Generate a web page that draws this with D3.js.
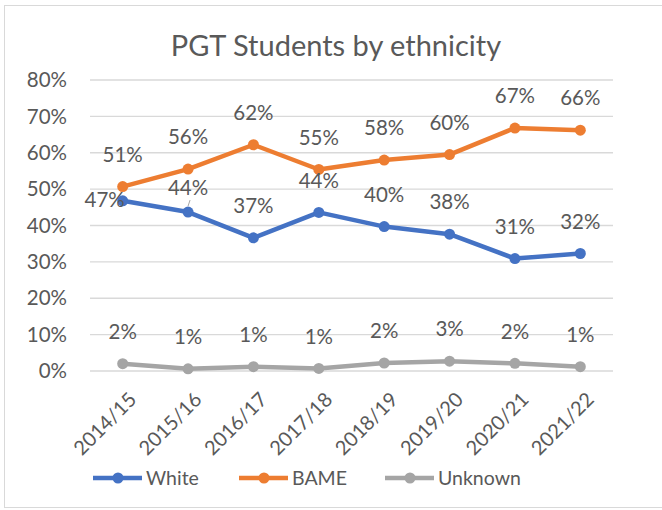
<!DOCTYPE html>
<html>
<head>
<meta charset="utf-8">
<script src="https://cdn.jsdelivr.net/npm/d3@7"></script>
<style>
  body { margin: 0; background: #fff; }
  svg text { font-family: Lato, "Noto Sans", sans-serif; fill: #595959; }
</style>
</head>
<body>
<div id="chart"></div>
<script>
// datos
const years = ["2014/15", "2015/16", "2016/17", "2017/18", "2018/19", "2019/20", "2020/21", "2021/22"];
const white = [46.8, 43.7, 36.6, 43.6, 39.7, 37.6, 30.9, 32.3];
const bame = [50.7, 55.5, 62.2, 55.4, 58.0, 59.5, 66.8, 66.2];
const unknown = [2.0, 0.6, 1.2, 0.7, 2.2, 2.7, 2.1, 1.2];
const yTicks = [0, 10, 20, 30, 40, 50, 60, 70, 80];

const series = [
  { name: "White", values: white, color: "#4472C4" },
  { name: "BAME", values: bame, color: "#ED7D31" },
  { name: "Unknown", values: unknown, color: "#A5A5A5" }
];

const W = 662, H = 510;
const svg = d3.select("#chart").append("svg").attr("width", W).attr("height", H);

// borde del área del gráfico
svg.append("rect").attr("x", 4.5).attr("y", 5.5).attr("width", W + 10).attr("height", 502)
  .attr("fill", "#fff").attr("stroke", "#d9d9d9");

const x = d3.scalePoint().domain(years).range([90, 613]).padding(0.5);
const y = d3.scaleLinear().domain([0, 80]).range([371, 80]);

// título
svg.append("text").attr("x", 336).attr("y", 56).attr("text-anchor", "middle")
  .style("font-size", "29px").text("PGT Students by ethnicity");

// cuadrícula y eje Y
const yAxis = svg.append("g");
yAxis.selectAll("line").data(yTicks).enter().append("line")
  .attr("x1", 90).attr("x2", 613)
  .attr("y1", d => y(d)).attr("y2", d => y(d))
  .attr("stroke", "#d9d9d9").attr("stroke-width", 1.3);
yAxis.selectAll("text").data(yTicks).enter().append("text")
  .attr("x", 67).attr("y", d => y(d)).attr("dy", "0.35em")
  .attr("text-anchor", "end").style("font-size", "20.5px")
  .text(d => d + "%");

// etiquetas del eje X
svg.append("g").selectAll("text").data(years).enter().append("text")
  .attr("transform", d => `translate(${x(d) + 5},${391}) rotate(-45)`)
  .attr("text-anchor", "end").attr("dy", "0.7em")
  .style("font-size", "20px").text(d => d);

// líneas y marcadores
const line = d3.line().x((d, i) => x(years[i])).y(d => y(d));
series.forEach(s => {
  const g = svg.append("g");
  g.append("path").datum(s.values).attr("d", line)
    .attr("fill", "none").attr("stroke", s.color).attr("stroke-width", 4.5)
    .attr("stroke-linejoin", "round");
  g.selectAll("circle").data(s.values).enter().append("circle")
    .attr("cx", (d, i) => x(years[i])).attr("cy", d => y(d)).attr("r", 5.5)
    .attr("fill", s.color);
});

// etiquetas de datos
series.forEach(s => {
  svg.append("g").selectAll("text").data(s.values).enter().append("text")
    .attr("x", (d, i) => {
      if (s.name === "White" && i === 0) return x(years[i]) - 18;
      return x(years[i]);
    })
    .attr("y", (d, i) => {
      if (s.name === "White" && i === 0) return y(d) - 1;
      if (s.name === "White" && i === 1) return y(d) - 24;
      return y(d) - 32;
    })
    .attr("dy", "0.35em").attr("text-anchor", "middle")
    .style("font-size", "20.5px")
    .text(d => Math.round(d) + "%");
});

// pequeña línea guía de la etiqueta 44%
svg.append("line")
  .attr("x1", x(years[1])).attr("y1", y(white[1]) - 6)
  .attr("x2", x(years[1]) + 2).attr("y2", y(white[1]) - 12)
  .attr("stroke", "#a6a6a6").attr("stroke-width", 1);

// leyenda
const legendX = [93, 239, 385];
const legend = svg.append("g");
series.forEach((s, i) => {
  const g = legend.append("g").attr("transform", `translate(${legendX[i]},478)`);
  g.append("line").attr("x1", 0).attr("x2", 49).attr("y1", 0).attr("y2", 0)
    .attr("stroke", s.color).attr("stroke-width", 4.5);
  g.append("circle").attr("cx", 25).attr("cy", 0).attr("r", 5.5).attr("fill", s.color);
  g.append("text").attr("x", 53).attr("dy", "0.35em").style("font-size", "19.5px").text(s.name);
});
</script>
</body>
</html>
